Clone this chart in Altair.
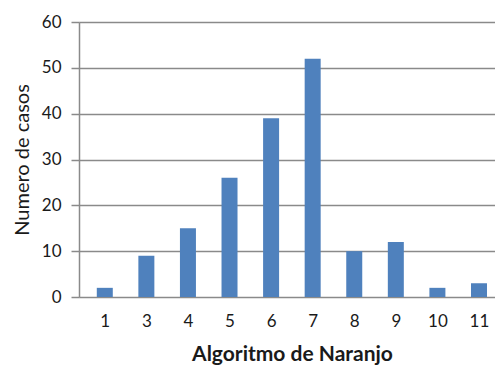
import altair as alt
import pandas as pd

# Naranjo algorithm scores and number of cases for each score
scores = ["1", "3", "4", "5", "6", "7", "8", "9", "10", "11"]
cases = [2, 9, 15, 26, 39, 52, 10, 12, 2, 3]

df = pd.DataFrame({"pos": list(range(len(scores))), "score": scores, "cases": cases})

label_map = "{" + ",".join(f"'{i}':'{s}'" for i, s in enumerate(scores)) + "}"

FONT = "Lato"
TEXT = "#1a1a1a"
GRID = "#8a8a8a"

bars = alt.Chart(df).mark_bar(color="#4F81BD", width=16).encode(
    x=alt.X(
        "pos:Q",
        scale=alt.Scale(domain=[-0.5, 9.265], nice=False, zero=False),
        axis=alt.Axis(
            title="Algoritmo de Naranjo",
            values=list(range(len(scores))),
            labelExpr=f"{label_map}[datum.value]",
            ticks=False,
            grid=False,
            domain=False,
            labelPadding=16,
            labelFontSize=17,
            labelColor=TEXT,
            labelFont=FONT,
            titleFont=FONT,
            titleFontSize=21,
            titleFontWeight="bold",
            titleColor=TEXT,
            titlePadding=14,
            titleX=213,
            titleAnchor="middle",
        ),
    ),
    y=alt.Y(
        "cases:Q",
        scale=alt.Scale(domain=[0, 60], nice=False),
        axis=alt.Axis(
            title="Numero de casos",
            values=[0, 10, 20, 30, 40, 50, 60],
            grid=True,
            gridColor=GRID,
            gridWidth=1.5,
            tickColor=GRID,
            tickWidth=1.5,
            tickSize=8,
            domainColor=GRID,
            domainWidth=1.5,
            labelPadding=10,
            labelFontSize=17,
            labelColor=TEXT,
            labelFont=FONT,
            titleFont=FONT,
            titleFontSize=20,
            titleFontWeight="normal",
            titleColor=TEXT,
            titlePadding=9,
        ),
    ),
)

chart = bars.properties(
    width=416,
    height=275,
    autosize=alt.AutoSizeParams(type="none"),
    padding={"left": 79, "top": 22, "right": 0, "bottom": 69},
).configure_view(stroke=None).configure(background="white")

chart.save("out.html", embed_options={"renderer": "svg", "actions": False})
